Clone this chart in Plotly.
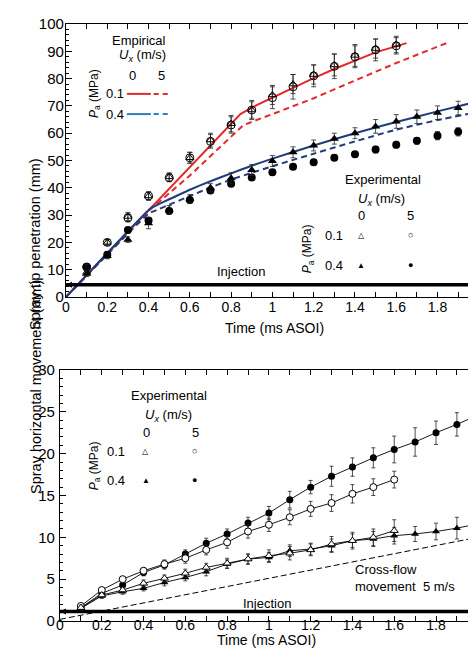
import plotly.graph_objects as go

# ---------------- DATA: top chart (spray tip penetration, mm) ----------------
t_p01 = [0.1, 0.2, 0.3, 0.4, 0.5, 0.6, 0.7, 0.8, 0.9, 1.0, 1.1, 1.2, 1.3, 1.4, 1.5, 1.6]
t_p04 = [0.1, 0.2, 0.3, 0.4, 0.5, 0.6, 0.7, 0.8, 0.9, 1.0, 1.1, 1.2, 1.3, 1.4, 1.5, 1.6, 1.7, 1.8, 1.9, 2.0]

pen_p01_u0 = [9.0, 20.0, 29.5, 37.0, 44.0, 51.0, 57.5, 63.5, 68.5, 74.0, 78.0, 81.5, 85.0, 88.5, 91.0, 92.5]
pen_p01_u0_err = [1.0, 1.0, 1.5, 1.5, 1.5, 2.0, 2.5, 3.0, 3.0, 3.5, 3.5, 3.5, 4.0, 4.0, 3.5, 3.0]
pen_p01_u5 = [11.0, 20.0, 29.0, 37.0, 43.7, 51.0, 57.0, 63.0, 68.5, 73.0, 77.0, 81.0, 84.5, 88.0, 90.5, 92.0]
pen_p01_u5_err = [1.0, 1.0, 1.5, 1.5, 1.5, 2.0, 2.5, 3.0, 3.5, 4.0, 4.5, 4.0, 4.5, 4.0, 4.0, 3.0]
pen_p04_u0 = [8.5, 15.0, 21.0, 27.0, 32.0, 36.0, 40.0, 43.5, 46.5, 49.8, 53.0, 55.5, 58.0, 60.0, 62.5, 64.3, 66.0, 67.5, 69.2, 70.5]
pen_p04_u0_err = [1.0, 1.0, 1.0, 2.0, 1.5, 1.5, 1.5, 2.0, 2.0, 2.0, 2.0, 2.0, 2.0, 2.0, 2.5, 2.5, 2.5, 2.5, 2.5, 2.5]
pen_p04_u5 = [11.0, 15.5, 24.5, 28.0, 31.5, 35.5, 39.0, 41.5, 43.8, 45.7, 47.7, 49.4, 51.0, 52.3, 54.0, 55.8, 57.2, 59.1, 60.5, 62.0]
pen_p04_u5_err = [1.0, 1.0, 1.0, 1.0, 1.0, 1.0, 1.0, 1.0, 1.0, 1.0, 1.0, 1.0, 1.0, 1.0, 1.2, 1.2, 1.2, 1.5, 1.5, 1.5]

# empirical curves
emp_p01_u0_t = [0, 0.845, 0.9, 1.0, 1.1, 1.2, 1.3, 1.4, 1.5, 1.65]
emp_p01_u0_s = [0, 67.0, 69.4, 73.0, 76.8, 80.2, 83.5, 86.6, 89.6, 93.0]
emp_p01_u5_t = [0, 0.4, 0.6, 0.86, 1.0, 1.2, 1.4, 1.6, 1.86]
emp_p01_u5_s = [0, 31.5, 44.5, 63.0, 67.0, 72.8, 79.3, 85.7, 93.5]
emp_p04_u0_t = [0, 0.41, 0.45, 0.5, 0.6, 0.7, 0.8, 0.9, 1.0, 1.2, 1.4, 1.6, 1.8, 2.0]
emp_p04_u0_s = [0, 32.5, 34.0, 35.8, 39.3, 42.4, 45.3, 48.1, 50.7, 55.5, 60.0, 64.1, 68.0, 71.7]
emp_p04_u5_t = [0, 0.4, 0.45, 0.5, 0.6, 0.7, 0.8, 0.9, 1.0, 1.2, 1.4, 1.6, 1.8, 2.0]
emp_p04_u5_s = [0, 30.5, 32.2, 33.8, 37.0, 40.1, 43.0, 45.5, 47.9, 52.5, 57.0, 61.3, 64.8, 67.8]

inj_t = [0, 2]
inj_top = [4.5, 4.5]

# ---------------- DATA: bottom chart (horizontal movement, mm) ----------------
hm_p01_u0 = [1.6, 3.1, 3.7, 4.5, 5.1, 5.7, 6.4, 6.9, 7.4, 7.8, 8.1, 8.5, 9.2, 9.6, 10.0, 10.8]
hm_p01_u0_err = [0.3, 0.3, 0.3, 0.4, 0.4, 0.5, 0.5, 0.6, 0.6, 0.7, 0.8, 0.7, 0.9, 1.0, 1.0, 1.3]
hm_p01_u5 = [1.8, 3.7, 5.0, 6.0, 6.8, 7.5, 8.5, 9.4, 10.7, 11.5, 12.4, 13.4, 14.1, 15.2, 16.0, 16.9]
hm_p01_u5_err = [0.3, 0.3, 0.3, 0.4, 0.5, 0.6, 0.6, 0.7, 0.8, 0.8, 0.9, 0.9, 1.0, 1.1, 1.0, 1.0]
hm_p04_u0 = [1.5, 3.0, 3.5, 3.9, 4.6, 5.2, 5.9, 6.8, 7.4, 7.6, 8.4, 8.6, 9.0, 9.6, 9.8, 10.2, 10.4, 10.7, 11.1, 11.6]
hm_p04_u0_err = [0.3, 0.3, 0.3, 0.3, 0.4, 0.4, 0.5, 0.5, 0.6, 0.6, 0.7, 0.7, 0.8, 0.8, 0.9, 1.0, 0.9, 1.0, 1.3, 1.0]
hm_p04_u5 = [1.6, 3.3, 4.3, 5.8, 6.7, 8.0, 9.3, 10.4, 11.7, 12.9, 14.5, 16.0, 17.3, 18.4, 19.5, 20.5, 21.4, 22.5, 23.5, 24.6]
hm_p04_u5_err = [0.3, 0.3, 0.4, 0.4, 0.5, 0.5, 0.6, 0.6, 0.7, 0.8, 1.0, 0.8, 1.2, 1.1, 1.2, 1.6, 1.7, 1.4, 1.4, 1.0]

cross_t = [0, 2]
cross_s = [0.2, 10.0]
inj_bot = [1.15, 1.15]

x_tickvals = [0, 0.2, 0.4, 0.6, 0.8, 1.0, 1.2, 1.4, 1.6, 1.8, 2.0]
x_ticktext = ["0", "0.2", "0.4", "0.6", "0.8", "1", "1.2", "1.4", "1.6", "1.8", "2"]

# ---------------- STYLE ----------------
W, H = 476, 651

def fx(px):
    return px / W

def fy(py):
    return 1 - py / H

FONT = "Liberation Sans, Arial, sans-serif"
RED = "#e4292b"
NAVY = "#1f3d7c"
LBLUE = "#2a7fc0"

fig = go.Figure()

def err(vals, w=2.5):
    return dict(type="data", array=vals, visible=True, color="#222222", thickness=0.8, width=w)

# top empirical lines
fig.add_trace(go.Scatter(x=emp_p01_u0_t, y=emp_p01_u0_s, mode="lines", line=dict(color=RED, width=2), xaxis="x", yaxis="y"))
fig.add_trace(go.Scatter(x=emp_p01_u5_t, y=emp_p01_u5_s, mode="lines", line=dict(color=RED, width=2, dash="6px,4px"), xaxis="x", yaxis="y"))
fig.add_trace(go.Scatter(x=emp_p04_u0_t, y=emp_p04_u0_s, mode="lines", line=dict(color=NAVY, width=2, shape="spline", smoothing=0.4), xaxis="x", yaxis="y"))
fig.add_trace(go.Scatter(x=emp_p04_u5_t, y=emp_p04_u5_s, mode="lines", line=dict(color=NAVY, width=2, dash="6px,4px", shape="spline", smoothing=0.4), xaxis="x", yaxis="y"))
fig.add_trace(go.Scatter(x=inj_t, y=inj_top, mode="lines", line=dict(color="black", width=3.5), xaxis="x", yaxis="y"))

# top experimental markers
fig.add_trace(go.Scatter(x=t_p04, y=pen_p04_u5, mode="markers", error_y=err(pen_p04_u5_err),
                         marker=dict(symbol="circle", size=8, color="black"), xaxis="x", yaxis="y", cliponaxis=False))
fig.add_trace(go.Scatter(x=t_p04, y=pen_p04_u0, mode="markers", error_y=err(pen_p04_u0_err),
                         marker=dict(symbol="triangle-up", size=8, color="black"), xaxis="x", yaxis="y", cliponaxis=False))
fig.add_trace(go.Scatter(x=t_p01, y=pen_p01_u5, mode="markers", error_y=err(pen_p01_u5_err),
                         marker=dict(symbol="circle-open", size=8, color="black", line=dict(width=1)), xaxis="x", yaxis="y", cliponaxis=False))
fig.add_trace(go.Scatter(x=t_p01, y=pen_p01_u0, mode="markers", error_y=err(pen_p01_u0_err),
                         marker=dict(symbol="triangle-up-open", size=7, color="black", line=dict(width=1)), xaxis="x", yaxis="y", cliponaxis=False))

# bottom
fig.add_trace(go.Scatter(x=cross_t, y=cross_s, mode="lines", line=dict(color="black", width=1, dash="6px,3px"), xaxis="x2", yaxis="y2"))
fig.add_trace(go.Scatter(x=inj_t, y=inj_bot, mode="lines", line=dict(color="black", width=3.5), xaxis="x2", yaxis="y2"))
line_k = dict(color="black", width=0.9)
fig.add_trace(go.Scatter(x=t_p04, y=hm_p04_u5, mode="lines+markers", line=line_k, error_y=err(hm_p04_u5_err, 2),
                         marker=dict(symbol="circle", size=7, color="black"), xaxis="x2", yaxis="y2", cliponaxis=False))
fig.add_trace(go.Scatter(x=t_p04, y=hm_p04_u0, mode="lines+markers", line=line_k, error_y=err(hm_p04_u0_err, 2),
                         marker=dict(symbol="triangle-up", size=7, color="black"), xaxis="x2", yaxis="y2", cliponaxis=False))
fig.add_trace(go.Scatter(x=t_p01, y=hm_p01_u5, mode="lines+markers", line=line_k, error_y=err(hm_p01_u5_err, 2),
                         marker=dict(symbol="circle", size=7, color="white", line=dict(width=1, color="black")), xaxis="x2", yaxis="y2", cliponaxis=False))
fig.add_trace(go.Scatter(x=t_p01, y=hm_p01_u0, mode="lines+markers", line=line_k, error_y=err(hm_p01_u0_err, 2),
                         marker=dict(symbol="triangle-up", size=7, color="white", line=dict(width=1, color="black")), xaxis="x2", yaxis="y2", cliponaxis=False))

def xax(domain, anchor, standoff):
    return dict(domain=domain, anchor=anchor, range=[0, 2.001], tickvals=x_tickvals, ticktext=x_ticktext,
                ticks="inside", ticklen=5, tickwidth=1, tickcolor="black",
                minor=dict(dtick=0.1, tick0=0, ticks="inside", ticklen=5, tickwidth=1, tickcolor="black"),
                showline=True, linecolor="black", linewidth=1.2, mirror="ticks", showgrid=False, zeroline=False,
                tickfont=dict(family=FONT, size=14, color="black"), automargin=False,
                ticklabeloverflow="allow", ticklabelstandoff=standoff)

def yax(domain, anchor, rng, dt, mdt, standoff):
    return dict(domain=domain, anchor=anchor, range=rng, dtick=dt, tick0=0,
                ticks="inside", ticklen=6, tickwidth=1, tickcolor="black",
                minor=dict(dtick=mdt, tick0=0, ticks="inside", ticklen=3, tickwidth=1, tickcolor="black"),
                showline=True, linecolor="black", linewidth=1.2, mirror="ticks", showgrid=False, zeroline=False,
                tickfont=dict(family=FONT, size=15, color="black"), automargin=False, ticklabelstandoff=standoff)

fig.update_layout(
    width=W, height=H, margin=dict(l=0, r=0, t=0, b=0),
    paper_bgcolor="white", plot_bgcolor="white", showlegend=False,
    xaxis=xax([fx(58), fx(471)], "y", -3),
    yaxis=yax([fy(289), fy(16)], "x", [0, 100], 10, 2, -2),
    xaxis2=xax([fx(52), fx(470)], "y2", -9),
    yaxis2=yax([fy(613), fy(362)], "x2", [0, 30], 5, 1, 1),
)

ann = []
def A(text, x, y, xref="x", yref="y", size=13, **kw):
    d = dict(text=text, x=x, y=y, xref=xref, yref=yref, showarrow=False,
             font=dict(family=FONT, size=size, color="black"))
    d.update(kw)
    ann.append(d)

UX = "<i>U</i><sub><i>x</i></sub> (m/s)"
PA = "<i>P</i><sub>a</sub> (MPa)"

# axis titles
A("Spray tip penetration (mm)", fx(17), fy(148), "paper", "paper", size=14.5, textangle=-90)
A("Time (ms ASOI)", fx(266), fy(320), "paper", "paper", size=14)
A("Spray horizontal movement (mm)", fx(18), fy(488), "paper", "paper", size=14.5, textangle=-90)
A("Time (ms ASOI)", fx(258), fy(642), "paper", "paper", size=14)

# top empirical legend
A("Empirical", 0.353, 94.1)
A(UX, 0.372, 88.3)
A("0", 0.324, 81.3)
A("5", 0.464, 81.3)
A("0.1", 0.237, 74.4)
A("0.4", 0.237, 67.0)
A(PA, 0.14, 74.7, textangle=-90, size=12)
shapes = []
for yy, col in [(74.4, RED), (67.0, LBLUE)]:
    shapes.append(dict(type="line", xref="x", yref="y", x0=0.295, x1=0.411, y0=yy, y1=yy, line=dict(color=col, width=2)))
    shapes.append(dict(type="line", xref="x", yref="y", x0=0.425, x1=0.512, y0=yy, y1=yy, line=dict(color=col, width=2, dash="5px,4px")))

# top experimental legend
A("Experimental", 1.536, 43.0)
A(UX, 1.531, 35.6)
A("0", 1.43, 29.7)
A("5", 1.671, 29.7)
A("0.1", 1.30, 22.7)
A("0.4", 1.30, 11.7)
A("△", 1.43, 22.7, size=8)
A("○", 1.671, 22.7, size=9)
A("▲", 1.43, 11.7, size=8)
A("●", 1.671, 11.7, size=9)
A(PA, 1.174, 17.6, textangle=-90, size=12)
A("Injection", 0.85, 9.5)

# bottom legend
A("Experimental", 0.52, 26.9, "x2", "y2")
A(UX, 0.517, 24.6, "x2", "y2")
A("0", 0.416, 22.5, "x2", "y2")
A("5", 0.651, 22.5, "x2", "y2")
A("0.1", 0.266, 20.3, "x2", "y2")
A("0.4", 0.266, 16.8, "x2", "y2")
A("△", 0.411, 20.3, "x2", "y2", size=8)
A("○", 0.646, 20.3, "x2", "y2", size=9)
A("▲", 0.411, 16.8, "x2", "y2", size=8)
A("●", 0.646, 16.8, "x2", "y2", size=9)
A(PA, 0.167, 18.6, "x2", "y2", textangle=-90, size=12)
A("Injection", 0.99, 2.15, "x2", "y2")
A("Cross-flow<br>movement  5 m/s", 1.402, 5.1, "x2", "y2", xanchor="left", align="left")

# injection arrowheads
for xr, yr, yy in [("x", "y", 4.5), ("x2", "y2", 1.15)]:
    ann.append(dict(x=0.0, y=yy, xref=xr, yref=yr, ax=0.12, ay=yy, axref=xr, ayref=yr,
                    showarrow=True, arrowhead=2, arrowsize=1.2, arrowwidth=1, arrowcolor="black", text=""))

fig.update_layout(annotations=ann, shapes=shapes)
fig.write_html("out.html")
